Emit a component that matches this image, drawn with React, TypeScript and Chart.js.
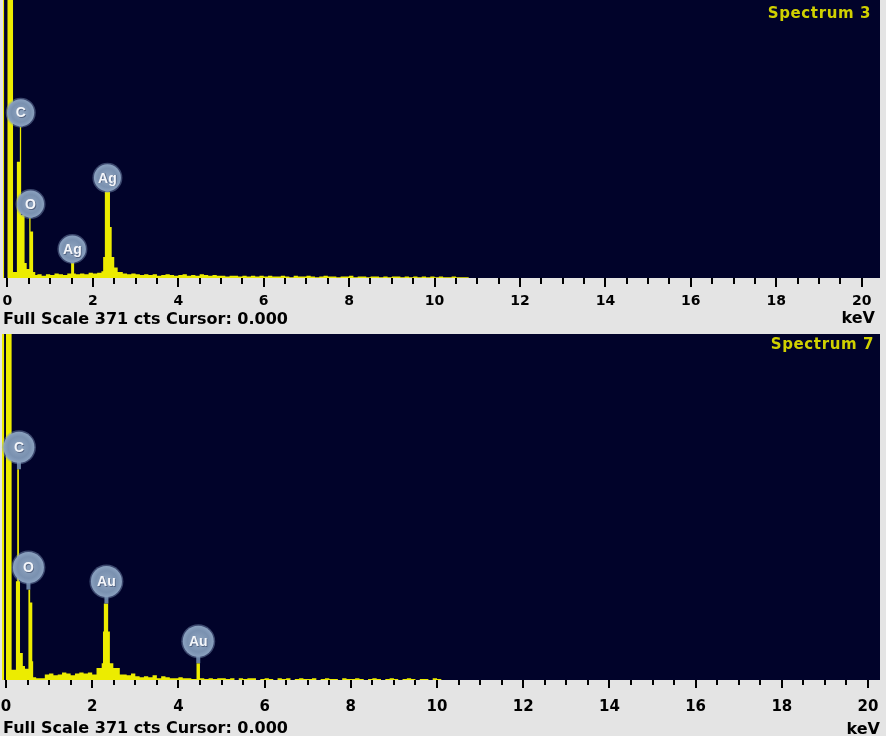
import React, { useEffect, useRef } from 'react';
import { Chart, registerables } from 'chart.js';

Chart.register(...registerables);

// ---------------- data ----------------
const FULL_SCALE_CTS = 371;
const TICK_LABEL_VALUES = [0, 2, 4, 6, 8, 10, 12, 14, 16, 18, 20];
const MINOR_TICK_VALUES = [
  0, 0.5, 1, 1.5, 2, 2.5, 3, 3.5, 4, 4.5, 5, 5.5, 6, 6.5, 7, 7.5, 8, 8.5, 9, 9.5, 10,
  10.5, 11, 11.5, 12, 12.5, 13, 13.5, 14, 14.5, 15, 15.5, 16, 16.5, 17, 17.5, 18, 18.5, 19, 19.5, 20,
];

// Spectrum 3 (top): bin start energies (keV) and counts
const spec3Title = 'Spectrum 3';
const spec3Energy = [
  -0.105, -0.08, 0.0, 0.13, 0.22, 0.29, 0.32, 0.4, 0.45, 0.51, 0.54, 0.6, 0.65, 0.7, 0.8, 0.9,
  1.0, 1.1, 1.2, 1.3, 1.4, 1.49, 1.56, 1.6, 1.7, 1.8, 1.9, 2.0, 2.1, 2.2, 2.24, 2.28, 2.4, 2.44,
  2.5, 2.58, 2.7, 2.8, 2.9,
];
const spec3Counts = [
  999, 0, 999, 8, 155, 202, 84, 20, 12, 80, 62, 8, 4, 5, 3, 5,
  4, 6, 5, 4, 6, 20, 6, 5, 6, 5, 7, 6, 7, 9, 28, 115, 68, 28,
  14, 8, 6, 5, 6,
];
// 0.1 keV bins from 3.0 keV
const spec3TailStart = 3.0;
const spec3TailCounts = [
  5, 4, 5, 4, 5, 3, 4, 5, 4, 3,
  4, 5, 3, 4, 3, 5, 4, 3, 4, 3,
  3, 2, 3, 3, 2, 3, 2, 3, 2, 3,
  2, 3, 2, 2, 3, 2, 1, 3, 2, 2,
  3, 2, 1, 2, 3, 2, 2, 1, 2, 2,
  3, 1, 2, 2, 1, 2, 2, 1, 2, 1,
  2, 2, 1, 2, 1, 2, 1, 2, 1, 2,
  1, 2, 1, 1, 2, 1, 1, 1, 0,
];
const spec3PeakNames = ['C', 'O', 'Ag', 'Ag'];
const spec3PeakEnergy = [0.31, 0.54, 1.52, 2.34];
const spec3PeakCounts = [202, 80, 20, 115];

// Spectrum 7 (bottom)
const spec7Title = 'Spectrum 7';
const spec7Energy = [
  -0.093, -0.045, 0.0, 0.13, 0.23, 0.26, 0.3, 0.325, 0.39, 0.44, 0.52, 0.56, 0.61, 0.63, 0.7, 0.8,
  0.9, 1.0, 1.1, 1.2, 1.3, 1.4, 1.5, 1.6, 1.7, 1.8, 1.9, 2.0, 2.1, 2.22, 2.25, 2.27, 2.37, 2.41,
  2.49, 2.64, 2.7, 2.8, 2.9, 3.0, 3.1, 3.2, 3.3, 3.4, 3.5, 3.6, 3.7, 3.8, 3.9, 4.0, 4.1, 4.2,
  4.3, 4.42, 4.5,
];
const spec7Counts = [
  999, 0, 999, 11, 106, 226, 106, 29, 15, 12, 97, 83, 20, 3, 2, 2,
  6, 7, 5, 6, 8, 7, 5, 7, 8, 7, 8, 6, 13, 18, 52, 82, 52, 18,
  13, 6, 6, 5, 7, 4, 3, 4, 3, 5, 2, 4, 3, 2, 2, 3, 2, 2,
  1, 18, 2,
];
// 0.1 keV bins from 4.6 keV
const spec7TailStart = 4.6;
const spec7TailCounts = [
  1, 2, 1, 2,
  2, 1, 2, 0, 2, 1, 2, 2, 0, 1,
  2, 1, 0, 2, 1, 2, 0, 1, 2, 1,
  1, 2, 0, 1, 2, 1, 1, 0, 2, 1,
  1, 2, 1, 0, 1, 2, 1, 0, 1, 2,
  1, 0, 1, 2, 1, 0, 1, 1, 0, 2,
  1, 0, 0,
];
const spec7PeakNames = ['C', 'O', 'Au', 'Au'];
const spec7PeakEnergy = [0.3, 0.52, 2.33, 4.46];
const spec7PeakCounts = [226, 97, 82, 18];

const TAIL_STEP = 0.1;

// ---------------- styles ----------------
const NAVY = '#01032a';
const GRAY = '#e4e4e4';
const YELLOW = '#ecec00';
const TITLE_YELLOW = '#d0d000';

type PanelCfg = {
  height: number;
  padLeft: number;
  padRight: number;
  xMin: number;
  xMax: number;
  axisHeight: number;
  tickFont: number;
  labelOffset: number;
  majorLen: number;
  minorLen: number;
  footerBaseline: number;
  keVRight: number;
  keVBaseline: number;
  titleRight: number;
  titleBaseline: number;
  bubbleR: number;
  bubbleOffset: number;
  title: string;
  energy: number[];
  counts: number[];
  tailStart: number;
  tailCounts: number[];
  peakNames: string[];
  peakEnergy: number[];
  peakCounts: number[];
};

function drawBubble(ctx: CanvasRenderingContext2D, cx: number, tipY: number, r: number, off: number, text: string) {
  const cy = tipY - off;
  // stem
  ctx.fillStyle = '#6a82a3';
  ctx.fillRect(cx - 2, cy + r - 2, 4, Math.max(0, tipY - (cy + r - 2)));
  // halo
  ctx.beginPath();
  ctx.arc(cx, cy, r + 1.5, 0, Math.PI * 2);
  ctx.fillStyle = 'rgba(130,155,190,0.45)';
  ctx.fill();
  const g = ctx.createRadialGradient(cx, cy, 0, cx, cy, r);
  g.addColorStop(0, '#90a5c0');
  g.addColorStop(0.7, '#7a91b0');
  g.addColorStop(1, '#8ba2c0');
  ctx.beginPath();
  ctx.arc(cx, cy, r, 0, Math.PI * 2);
  ctx.fillStyle = g;
  ctx.fill();
  ctx.font = 'bold 14px "Liberation Sans", Arial, sans-serif';
  ctx.textAlign = 'center';
  ctx.textBaseline = 'middle';
  ctx.fillStyle = 'rgba(40,50,80,0.5)';
  ctx.fillText(text, cx + 0.8, cy + 1.8);
  ctx.fillStyle = '#f4f6fa';
  ctx.fillText(text, cx, cy + 1);
}

function Panel({ cfg }: { cfg: PanelCfg }) {
  const ref = useRef<HTMLCanvasElement | null>(null);
  useEffect(() => {
    const canvas = ref.current;
    if (!canvas) return;
    const pts = cfg.energy.map((e, i) => ({ x: e, y: cfg.counts[i] }));
    cfg.tailCounts.forEach((c, i) => {
      pts.push({ x: Math.round((cfg.tailStart + i * TAIL_STEP) * 100) / 100, y: c });
    });
    pts.push({ x: pts[pts.length - 1].x + TAIL_STEP, y: 0 });

    const panelPlugin = {
      id: 'edsPanel',
      beforeDraw(chart: any) {
        const { ctx, width, height, chartArea: a } = chart;
        ctx.save();
        ctx.fillStyle = GRAY;
        ctx.fillRect(0, 0, width, height);
        ctx.fillStyle = NAVY;
        ctx.fillRect(a.left, a.top, a.right - a.left, a.bottom - a.top);
        ctx.restore();
      },
      afterDraw(chart: any) {
        const { ctx, chartArea: a, scales } = chart;
        const xs = scales.x;
        const ys = scales.y;
        ctx.save();
        // tick marks
        ctx.fillStyle = '#000';
        MINOR_TICK_VALUES.forEach((v) => {
          const px = Math.round(xs.getPixelForValue(v));
          const major = v % 2 === 0;
          ctx.fillRect(px - 1, a.bottom, 2, major ? cfg.majorLen : cfg.minorLen);
        });
        // peak label bubbles
        cfg.peakNames.forEach((n, i) => {
          const cx = xs.getPixelForValue(cfg.peakEnergy[i]);
          const tip = ys.getPixelForValue(cfg.peakCounts[i]);
          drawBubble(ctx, cx, tip, cfg.bubbleR, cfg.bubbleOffset, n);
        });
        // footer texts
        ctx.font = 'bold 16px "DejaVu Sans", sans-serif';
        ctx.textBaseline = 'alphabetic';
        ctx.fillStyle = '#000';
        ctx.textAlign = 'left';
        ctx.fillText(`Full Scale ${FULL_SCALE_CTS} cts Cursor: 0.000`, 3, cfg.footerBaseline);
        ctx.textAlign = 'right';
        ctx.fillText('keV', cfg.keVRight, cfg.keVBaseline);
        // spectrum title
        ctx.font = 'bold 15px "DejaVu Sans", sans-serif';
        (ctx as any).letterSpacing = '0.6px';
        ctx.fillStyle = TITLE_YELLOW;
        ctx.textAlign = 'right';
        ctx.fillText(cfg.title, cfg.titleRight, cfg.titleBaseline);
        (ctx as any).letterSpacing = '0px';
        ctx.restore();
      },
    };

    const chart = new Chart(canvas, {
      type: 'line',
      data: {
        datasets: [
          {
            data: pts,
            stepped: true,
            fill: 'origin',
            backgroundColor: YELLOW,
            borderColor: YELLOW,
            borderWidth: 0,
            pointRadius: 0,
            tension: 0,
          },
        ],
      },
      options: {
        responsive: false,
        maintainAspectRatio: false,
        animation: false,
        devicePixelRatio: 1,
        events: [],
        layout: { padding: { left: cfg.padLeft, right: cfg.padRight, top: 0, bottom: 0 } },
        scales: {
          x: {
            type: 'linear',
            min: cfg.xMin,
            max: cfg.xMax,
            grid: {
              display: true,
              drawOnChartArea: false,
              drawTicks: true,
              tickLength: cfg.labelOffset,
              tickColor: 'rgba(0,0,0,0)',
            },
            border: { display: false },
            afterBuildTicks: (s: any) => {
              s.ticks = TICK_LABEL_VALUES.map((v) => ({ value: v }));
            },
            afterFit: (s: any) => {
              s.height = cfg.axisHeight;
            },
            ticks: {
              autoSkip: false,
              maxRotation: 0,
              minRotation: 0,
              padding: 0,
              color: '#000',
              font: { family: '"DejaVu Sans", sans-serif', size: cfg.tickFont, weight: 'bold' },
              callback: (v: any) => String(v),
            },
          },
          y: { display: false, min: 0, max: FULL_SCALE_CTS },
        },
        plugins: {
          legend: { display: false },
          tooltip: { enabled: false },
          title: { display: false },
        },
      } as any,
      plugins: [panelPlugin],
    });
    return () => chart.destroy();
  }, [cfg]);
  return <canvas ref={ref} width={886} height={cfg.height} style={{ display: 'block', width: 886, height: cfg.height }} />;
}

const topCfg: PanelCfg = {
  height: 334,
  padLeft: 3,
  padRight: 6,
  xMin: -0.105,
  xMax: 20.43,
  axisHeight: 56,
  tickFont: 14,
  labelOffset: 15,
  majorLen: 9,
  minorLen: 6,
  footerBaseline: 324,
  keVRight: 875,
  keVBaseline: 323,
  titleRight: 871,
  titleBaseline: 18,
  bubbleR: 13.5,
  bubbleOffset: 14,
  title: spec3Title,
  energy: spec3Energy,
  counts: spec3Counts,
  tailStart: spec3TailStart,
  tailCounts: spec3TailCounts,
  peakNames: spec3PeakNames,
  peakEnergy: spec3PeakEnergy,
  peakCounts: spec3PeakCounts,
};

const bottomCfg: PanelCfg = {
  height: 402,
  padLeft: 2,
  padRight: 6,
  xMin: -0.093,
  xMax: 20.278,
  axisHeight: 56,
  tickFont: 15,
  labelOffset: 18,
  majorLen: 8,
  minorLen: 5,
  footerBaseline: 399,
  keVRight: 880,
  keVBaseline: 400,
  titleRight: 874,
  titleBaseline: 15,
  bubbleR: 15.5,
  bubbleOffset: 22,
  title: spec7Title,
  energy: spec7Energy,
  counts: spec7Counts,
  tailStart: spec7TailStart,
  tailCounts: spec7TailCounts,
  peakNames: spec7PeakNames,
  peakEnergy: spec7PeakEnergy,
  peakCounts: spec7PeakCounts,
};

export default function App() {
  return (
    <div style={{ position: 'absolute', left: 0, top: 0, width: 886, height: 736, background: GRAY, overflow: 'hidden' }}>
      <Panel cfg={topCfg} />
      <Panel cfg={bottomCfg} />
    </div>
  );
}
